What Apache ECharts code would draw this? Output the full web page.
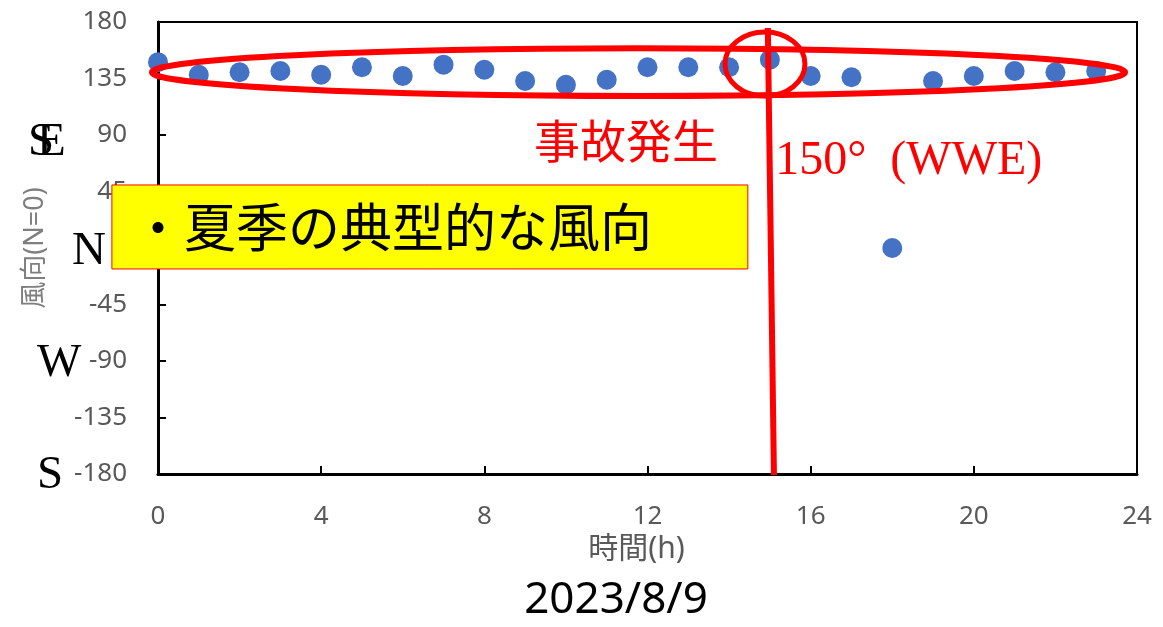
<!DOCTYPE html>
<html>
<head>
<meta charset="utf-8">
<script src="https://cdn.jsdelivr.net/npm/echarts@6/dist/echarts.min.js"></script>
<style>
  html, body { margin: 0; padding: 0; background: #ffffff; }
  #chart { width: 1163px; height: 627px; }
</style>
</head>
<body>
<div id="chart"></div>
<script>
// Hourly wind direction on 2023/8/9 (degrees, N = 0)
const hours = [0, 1, 2, 3, 4, 5, 6, 7, 8, 9, 10, 11, 12, 13, 14, 15, 16, 17, 18, 19, 20, 21, 22, 23];
const windDirection = [148, 138, 140, 141, 138, 144, 137, 146, 142, 133, 130, 134,
                       144, 144, 144, 150, 137, 136, 0, 133, 137, 141, 140, 141];

// Axis ticks
const hourTicks = [0, 4, 8, 12, 16, 20, 24];
const directionTicks = [-180, -135, -90, -45, 0, 45, 90, 135, 180];

// Compass letters beside the direction axis
const compassLetters = ['S', 'E', 'N', 'W', 'S'];
const compassValues = [90, 90, 0, -90, -180];

// Event annotation
const accidentHour = 15;
const accidentDirection = 150;
const accidentLabel = '事故発生';
const accidentDirectionLabel = '150°  (WWE)';
const noteText = '・夏季の典型的な風向';
const dateText = '2023/8/9';

const RED = '#ff0000';
const GRAY = '#595959';
const SANS = '"Noto Sans", "Noto Sans CJK JP", sans-serif';
const SERIF = '"Liberation Serif", "DejaVu Serif", serif';

const chart = echarts.init(document.getElementById('chart'), null, { renderer: 'canvas' });

chart.setOption({
  animation: false,
  backgroundColor: '#ffffff',
  grid: {
    left: 158, right: 26, top: 22, bottom: 153,
    show: true, borderColor: '#000000', borderWidth: 2, backgroundColor: 'transparent'
  },
  xAxis: {
    type: 'value',
    min: hourTicks[0],
    max: hourTicks[hourTicks.length - 1],
    interval: hourTicks[1] - hourTicks[0],
    name: '時間(h)',
    nameLocation: 'middle',
    nameGap: 52,
    nameTextStyle: { color: GRAY, fontSize: 30, fontFamily: SANS, padding: [0, 22, 0, 0] },
    axisLine: { onZero: false, lineStyle: { color: '#000000', width: 3 } },
    axisTick: { inside: true, length: 8, lineStyle: { color: '#000000', width: 2 } },
    axisLabel: { color: GRAY, fontSize: 26, fontFamily: SANS, margin: 30 },
    splitLine: { show: false }
  },
  yAxis: {
    type: 'value',
    min: directionTicks[0],
    max: directionTicks[directionTicks.length - 1],
    interval: directionTicks[1] - directionTicks[0],
    name: '風向(N=0)',
    nameLocation: 'middle',
    nameGap: 109,
    nameRotate: 90,
    nameTextStyle: { color: '#7f7f7f', fontSize: 27, fontFamily: SANS },
    axisLine: { onZero: false, lineStyle: { color: '#000000', width: 3 } },
    axisTick: { inside: true, length: 8, lineStyle: { color: '#000000', width: 2 } },
    axisLabel: { color: GRAY, fontSize: 26, fontFamily: SANS, margin: 31 },
    splitLine: { show: false }
  },
  series: [{
    type: 'scatter',
    data: hours.map((h, i) => [h, windDirection[i]]),
    symbol: 'circle',
    symbolSize: 20,
    itemStyle: { color: '#4472c4', opacity: 1 },
    z: 3
  }]
});

// Annotation overlay, placed through the axes' scales
const px = (h, v) => chart.convertToPixel({ gridIndex: 0 }, [h, v]);

function ellipseAt(h, v, rh, rv, lineWidth) {
  const c = px(h, v);
  const e = px(h + rh, v + rv);
  return {
    type: 'ellipse',
    shape: { cx: c[0], cy: c[1], rx: Math.abs(e[0] - c[0]), ry: Math.abs(c[1] - e[1]) },
    style: { fill: null, stroke: RED, lineWidth: lineWidth },
    z: 110
  };
}

const graphics = [];

// Letters for the compass directions
const letterOffsets = [[-130, 8], [-121, 8], [-86, 4], [-121, 3], [-121, 2]];
compassLetters.forEach((t, i) => {
  const p = px(0, compassValues[i]);
  graphics.push({
    type: 'text',
    x: p[0] + letterOffsets[i][0],
    y: p[1] + letterOffsets[i][1],
    style: { text: t, fill: '#000000', font: '47px ' + SERIF, textAlign: 'left', textVerticalAlign: 'middle' },
    z: 105
  });
});

// Highlight band round the daytime readings
graphics.push(ellipseAt(11.78, 140, 11.93, 19, 6));

// Circle round the reading at the time of the accident
graphics.push(ellipseAt(accidentHour - 0.12, accidentDirection - 3.5, 0.98, 25.5, 5));

// Marker line at the time of the accident
const lt = px(accidentHour - 0.05, 175.2);
const lb = px(accidentHour + 0.1, -180.8);
graphics.push({
  type: 'line',
  shape: { x1: lt[0], y1: lt[1], x2: lb[0], y2: lb[1] },
  style: { stroke: RED, lineWidth: 6 },
  z: 110
});

const pa = px(11.47, 86);
graphics.push({
  type: 'text', x: pa[0], y: pa[1],
  style: { text: accidentLabel, fill: RED, font: '46px "Noto Sans CJK JP", sans-serif', textAlign: 'center', textVerticalAlign: 'middle' },
  z: 112
});

const pd = px(accidentHour + 0.13, 69);
graphics.push({
  type: 'text', x: pd[0], y: pd[1],
  style: { text: accidentDirectionLabel, fill: RED, font: '48px ' + SERIF, textAlign: 'left', textVerticalAlign: 'middle' },
  z: 112
});

// Yellow note box
const b0 = px(-1.13, 50.2);
const b1 = px(14.46, -16.7);
graphics.push({
  type: 'rect',
  shape: { x: b0[0], y: b0[1], width: b1[0] - b0[0], height: b1[1] - b0[1] },
  style: { fill: '#ffff00', stroke: RED, lineWidth: 1 },
  z: 120
});
const pn = px(-0.64, 16.6);
graphics.push({
  type: 'text', x: pn[0], y: pn[1],
  style: { text: noteText, fill: '#000000', font: '52px "Noto Sans CJK JP", sans-serif', textAlign: 'left', textVerticalAlign: 'middle' },
  z: 121
});

// Date beneath the chart
graphics.push({
  type: 'text', x: 616, y: 600,
  style: { text: dateText, fill: '#000000', font: '44px ' + SANS, textAlign: 'center', textVerticalAlign: 'middle' },
  z: 105
});

chart.setOption({ graphic: { elements: graphics } });
</script>
</body>
</html>
